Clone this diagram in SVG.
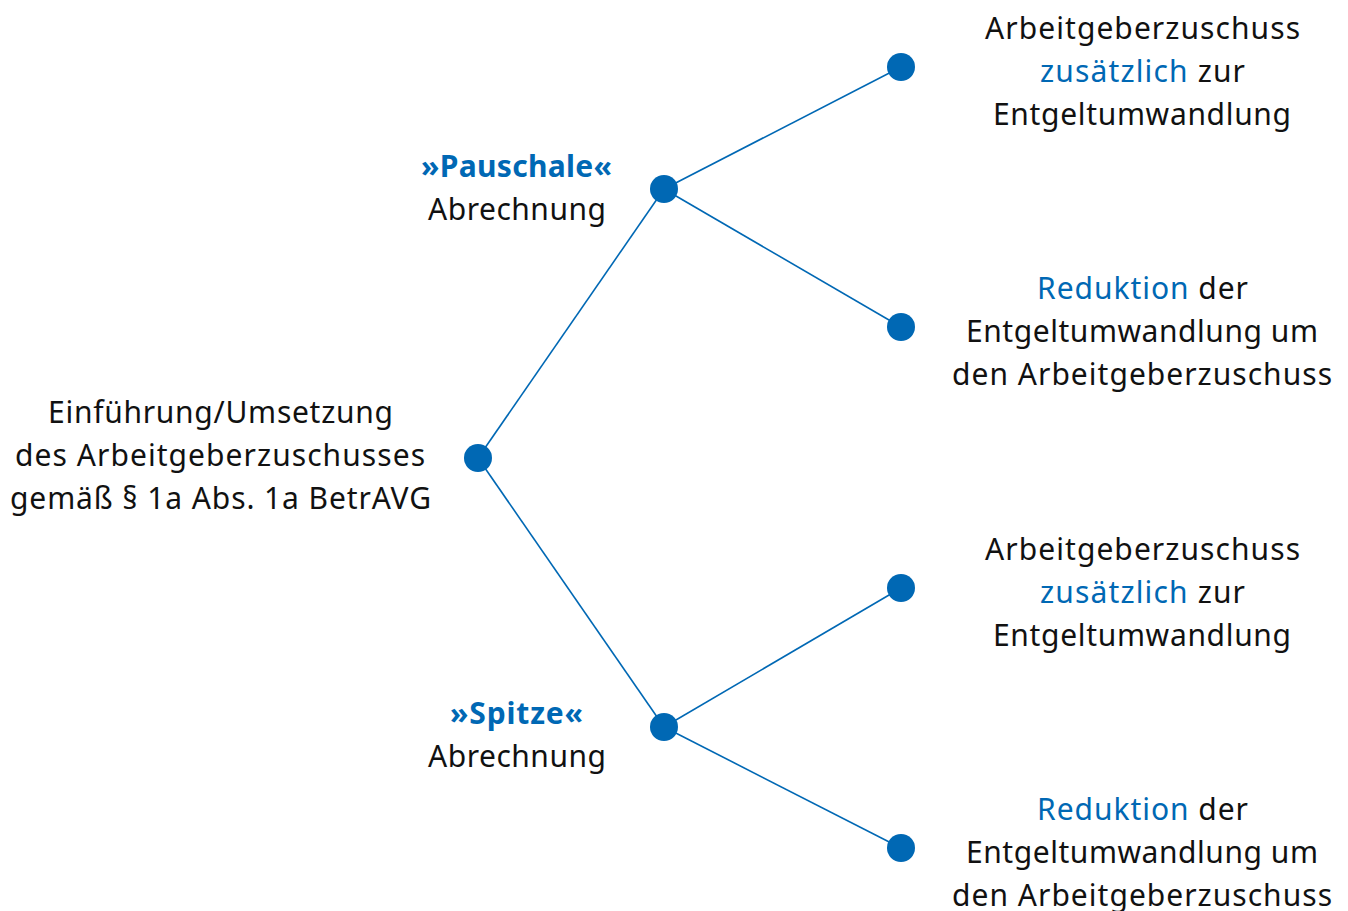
<svg xmlns="http://www.w3.org/2000/svg" width="1348" height="911" viewBox="0 0 1348 911">
<style>
text{font-family:"Noto Sans","Open Sans","DejaVu Sans",sans-serif;font-size:30px;fill:#111;}
.b{fill:#0068b4;}
.bold{font-weight:bold;fill:#0068b4;}
.c{stroke:#0068b4;stroke-width:1.6;fill:none;}
circle{fill:#0068b4;}
</style>
<rect width="1348" height="911" fill="#fff"/>
<g id="connectors">
<line class="c" x1="478" y1="458" x2="664" y2="189"/>
<line class="c" x1="478" y1="458" x2="664" y2="727"/>
<line class="c" x1="664" y1="189" x2="901" y2="67"/>
<line class="c" x1="664" y1="189" x2="901" y2="327"/>
<line class="c" x1="664" y1="727" x2="901" y2="588"/>
<line class="c" x1="664" y1="727" x2="901" y2="848"/>
</g>
<g id="root">
<circle cx="478" cy="458" r="14"/>
<text x="48" y="423" textLength="345">Einführung/Umsetzung</text>
<text x="15" y="466" textLength="410">des Arbeitgeberzuschusses</text>
<text x="10" y="509" textLength="421">gemäß § 1a Abs. 1a BetrAVG</text>
</g>
<g id="pauschale">
<circle cx="664" cy="189" r="14"/>
<text x="421" y="177" class="bold" textLength="191">»Pauschale«</text>
<text x="428" y="220" textLength="178">Abrechnung</text>
</g>
<g id="spitze">
<circle cx="664" cy="727" r="14"/>
<text x="450" y="724" class="bold" textLength="133">»Spitze«</text>
<text x="428" y="767" textLength="178">Abrechnung</text>
</g>
<g id="leaf1">
<circle cx="901" cy="67" r="14"/>
<text x="985" y="39" textLength="315">Arbeitgeberzuschuss</text>
<text x="1040" y="82" textLength="205"><tspan class="b">zusätzlich</tspan> zur</text>
<text x="993" y="125" textLength="298">Entgeltumwandlung</text>
</g>
<g id="leaf2">
<circle cx="901" cy="327" r="14"/>
<text x="1037" y="299" textLength="211"><tspan class="b">Reduktion</tspan> der</text>
<text x="966" y="342" textLength="352">Entgeltumwandlung um</text>
<text x="952" y="385" textLength="380">den Arbeitgeberzuschuss</text>
</g>
<g id="leaf3">
<circle cx="901" cy="588" r="14"/>
<text x="985" y="560" textLength="315">Arbeitgeberzuschuss</text>
<text x="1040" y="603" textLength="205"><tspan class="b">zusätzlich</tspan> zur</text>
<text x="993" y="646" textLength="298">Entgeltumwandlung</text>
</g>
<g id="leaf4">
<circle cx="901" cy="848" r="14"/>
<text x="1037" y="820" textLength="211"><tspan class="b">Reduktion</tspan> der</text>
<text x="966" y="863" textLength="352">Entgeltumwandlung um</text>
<text x="952" y="906" textLength="380">den Arbeitgeberzuschuss</text>
</g>
</svg>
